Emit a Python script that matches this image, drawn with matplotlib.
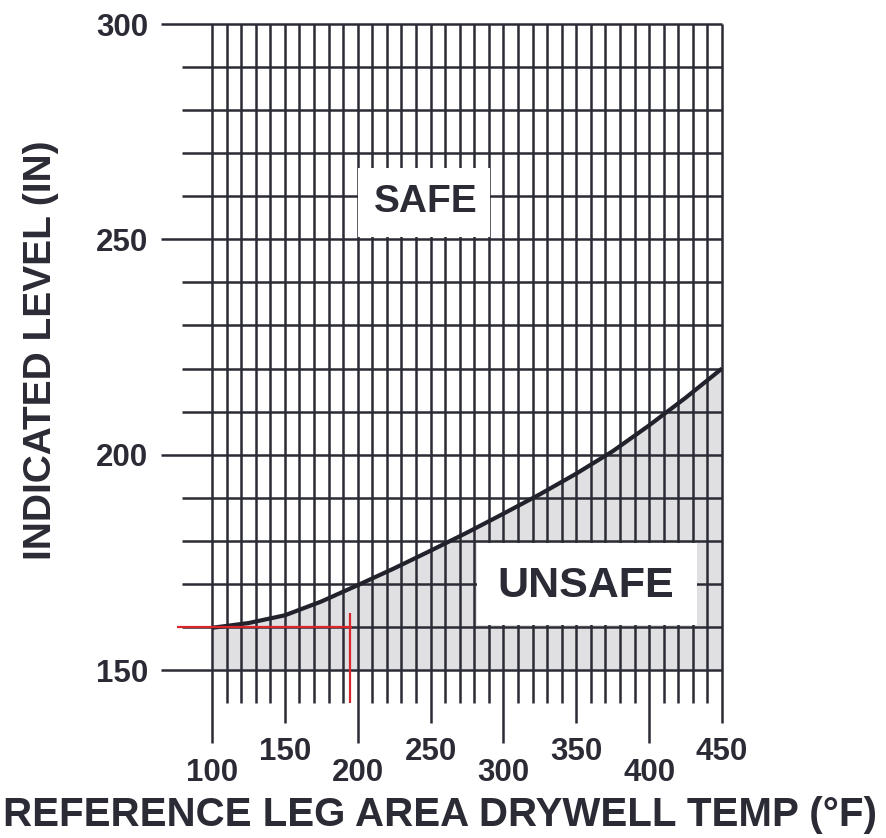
import matplotlib
matplotlib.use("Agg")
import matplotlib.pyplot as plt
from matplotlib.patches import Rectangle
import numpy as np

# ---- data ----
temps = [100, 125, 150, 175, 200, 225, 250, 275, 300, 325, 350, 375, 400, 425, 450]
level = [159.8, 160.9, 162.7, 165.9, 169.7, 173.6, 177.7, 181.9, 186.3, 190.8,
         195.6, 200.8, 206.8, 213.2, 220.0]
x_ticks_low = [100, 200, 300, 400]
x_ticks_high = [150, 250, 350, 450]
y_ticks = [150, 200, 250, 300]
red_level = 160
red_temp = 195
safe_label = "SAFE"
unsafe_label = "UNSAFE"
xlabel = "REFERENCE LEG AREA DRYWELL TEMP (°F)"
ylabel = "INDICATED LEVEL (IN)"

plt.rcParams['font.family'] = ['Liberation Sans', 'DejaVu Sans']
INK = '#2b2b35'

W, H = 886, 838
fig = plt.figure(figsize=(W / 100, H / 100), dpi=100)
ax = fig.add_axes([212 / W, (H - 670) / H, 510 / W, 646 / H])
ax.set_xlim(100, 450)
ax.set_ylim(150, 300)
for s in ax.spines.values():
    s.set_visible(False)

# fill (unsafe region)
ax.fill_between(temps, 150, level, color='#e0e0e2', lw=0, zorder=1)

# grid: vertical lines every 10
glw = 1.8
for x in range(100, 451, 10):
    if x % 100 == 0:
        ymin = 133.0
    elif x % 50 == 0:
        ymin = 137.6
    else:
        ymin = 142.3
    ax.vlines(x, ymin, 300, colors=INK, lw=glw, clip_on=False, zorder=2)
# horizontal lines every 10
for y in range(150, 301, 10):
    xmin = 64.8 if y % 50 == 0 else 79.2
    ax.hlines(y, xmin, 450, colors=INK, lw=glw, clip_on=False, zorder=2)

# label boxes
ax.add_patch(Rectangle((200.5, 250.6), 90.5, 16.0, facecolor='white', edgecolor='none', zorder=3))
ax.add_patch(Rectangle((282, 160.4), 151, 19.0, facecolor='white', edgecolor='none', zorder=3))
ax.text(246.5, 258.6, safe_label, ha='center', va='center', fontsize=28,
        fontweight='bold', color=INK, zorder=4)
ax.text(356.5, 169.6, unsafe_label, ha='center', va='center', fontsize=31,
        fontweight='bold', color=INK, zorder=4)

# curve
ax.plot(temps, level, color='#22222c', lw=3.0, zorder=5, solid_capstyle='butt')

# red reference lines
ax.hlines(red_level, 75.8, red_temp + 1, colors='#d8262a', lw=1.6, clip_on=False, zorder=6)
ax.vlines(red_temp, 142.3, 163.3, colors='#d8262a', lw=1.6, clip_on=False, zorder=6)

# ticks
tfs = 22.5
ax.tick_params(length=0)
ax.set_yticks(y_ticks)
ax.set_yticklabels([str(v) for v in y_ticks], fontsize=tfs, fontweight='bold', color=INK)
ax.tick_params(axis='y', pad=46)
ax.set_xticks(x_ticks_low)
ax.set_xticklabels([str(v) for v in x_ticks_low], fontsize=tfs, fontweight='bold', color=INK)
ax.set_xticks(x_ticks_high, minor=True)
ax.set_xticklabels([str(v) for v in x_ticks_high], minor=True, fontsize=tfs,
                   fontweight='bold', color=INK)
ax.tick_params(axis='x', which='major', pad=63)
ax.tick_params(axis='x', which='minor', pad=48, length=0)

ax.set_xlabel(xlabel, fontsize=29, fontweight='bold', color=INK, va='center')
ax.xaxis.set_label_coords((440 - 212) / 510, (670 - 815) / 646)
ax.set_ylabel(ylabel, fontsize=28, fontweight='bold', color=INK, va='center')
ax.yaxis.set_label_coords((41 - 212) / 510, (670 - 350) / 646)

fig.savefig("out.png", dpi=100, facecolor='white')
